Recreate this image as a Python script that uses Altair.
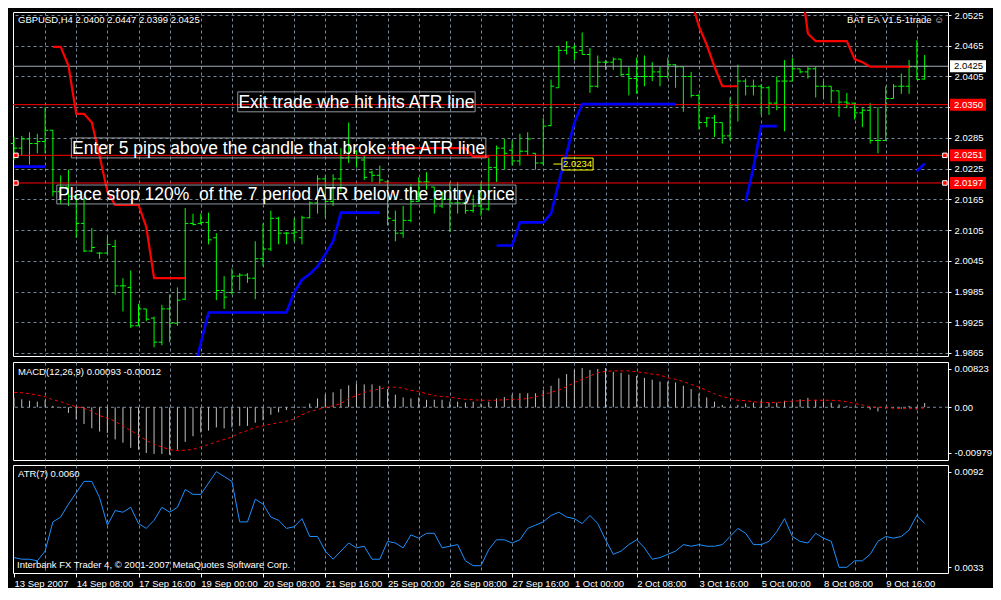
import altair as alt
import pandas as pd

FONT = "Liberation Sans"
GRID = "#778899"
W = 935
H_MAIN, H_MACD, H_ATR = 344, 98, 108

# ---------------- data ----------------
x_labels = ["13 Sep 2007", "14 Sep 08:00", "17 Sep 16:00", "19 Sep 00:00", "20 Sep 08:00",
            "21 Sep 16:00", "25 Sep 00:00", "26 Sep 08:00", "27 Sep 16:00", "1 Oct 00:00",
            "2 Oct 08:00", "3 Oct 16:00", "5 Oct 00:00", "8 Oct 08:00", "9 Oct 16:00"]
price_ticks = [2.0525, 2.0465, 2.0405, 2.0345, 2.0285, 2.0225, 2.0165, 2.0105,
               2.0045, 1.9985, 1.9925, 1.9865]
macd_ticks = [0.00823, 0.0, -0.00979]
atr_ticks = [0.0092, 0.0033]

bar_open = [
    2.0274, 2.0265, 2.0283, 2.0274, 2.0278, 2.0300, 2.0180, 2.0189, 2.0171, 2.0118,
    2.0064, 2.0060, 2.0060, 2.0073, 1.9996, 1.9993, 1.9918, 1.9951, 1.9933, 1.9886,
    1.9951, 1.9923, 1.9970, 2.0118, 2.0118, 2.0120, 2.0090, 1.9987, 1.9983, 2.0015,
    2.0017, 2.0011, 2.0049, 2.0068, 2.0128, 2.0099, 2.0099, 2.0090, 2.0129, 2.0158,
    2.0205, 2.0161, 2.0205, 2.0246, 2.0259, 2.0242, 2.0218, 2.0212, 2.0199, 2.0124,
    2.0099, 2.0124, 2.0161, 2.0199, 2.0189, 2.0152, 2.0165, 2.0158, 2.0158, 2.0143,
    2.0152, 2.0146, 2.0227, 2.0265, 2.0261, 2.0240, 2.0259, 2.0255, 2.0236, 2.0309,
    2.0383, 2.0456, 2.0461, 2.0456, 2.0448, 2.0386, 2.0433, 2.0433, 2.0439, 2.0409,
    2.0401, 2.0405, 2.0405, 2.0414, 2.0405, 2.0428, 2.0424, 2.0405, 2.0368, 2.0315,
    2.0324, 2.0315, 2.0289, 2.0349, 2.0396, 2.0386, 2.0386, 2.0383, 2.0353, 2.0396,
    2.0396, 2.0420, 2.0414, 2.0420, 2.0386, 2.0386, 2.0377, 2.0355, 2.0353, 2.0334,
    2.0339, 2.0280, 2.0280, 2.0362, 2.0386, 2.0386, 2.0424, 2.0400]
bar_high = [
    2.0287, 2.0289, 2.0296, 2.0293, 2.0345, 2.0300, 2.0212, 2.0223, 2.0176, 2.0171,
    2.0109, 2.0062, 2.0092, 2.0086, 2.0011, 2.0026, 1.9961, 1.9951, 1.9936, 1.9959,
    1.9979, 1.9993, 2.0148, 2.0137, 2.0137, 2.0139, 2.0099, 2.0015, 2.0030, 2.0021,
    2.0021, 2.0083, 2.0118, 2.0143, 2.0131, 2.0101, 2.0128, 2.0133, 2.0161, 2.0212,
    2.0212, 2.0214, 2.0265, 2.0315, 2.0261, 2.0250, 2.0221, 2.0231, 2.0203, 2.0143,
    2.0152, 2.0195, 2.0208, 2.0218, 2.0189, 2.0180, 2.0199, 2.0199, 2.0167, 2.0174,
    2.0199, 2.0246, 2.0270, 2.0283, 2.0280, 2.0293, 2.0296, 2.0255, 2.0324, 2.0399,
    2.0465, 2.0474, 2.0467, 2.0491, 2.0461, 2.0446, 2.0437, 2.0442, 2.0439, 2.0424,
    2.0442, 2.0446, 2.0433, 2.0424, 2.0442, 2.0429, 2.0424, 2.0414, 2.0371, 2.0326,
    2.0330, 2.0315, 2.0364, 2.0428, 2.0401, 2.0399, 2.0390, 2.0386, 2.0405, 2.0437,
    2.0441, 2.0420, 2.0424, 2.0424, 2.0396, 2.0386, 2.0377, 2.0373, 2.0353, 2.0343,
    2.0353, 2.0345, 2.0386, 2.0390, 2.0411, 2.0437, 2.0476, 2.0447]
bar_low = [
    2.0242, 2.0251, 2.0233, 2.0255, 2.0255, 2.0171, 2.0156, 2.0152, 2.0090, 2.0062,
    2.0062, 2.0049, 2.0058, 1.9979, 1.9946, 1.9914, 1.9918, 1.9927, 1.9876, 1.9880,
    1.9886, 1.9918, 1.9968, 2.0114, 2.0116, 2.0077, 1.9968, 1.9951, 1.9979, 1.9987,
    2.0002, 1.9970, 2.0034, 2.0064, 2.0077, 2.0077, 2.0083, 2.0077, 2.0128, 2.0137,
    2.0129, 2.0152, 2.0180, 2.0236, 2.0227, 2.0203, 2.0199, 2.0195, 2.0114, 2.0083,
    2.0090, 2.0120, 2.0161, 2.0184, 2.0137, 2.0148, 2.0101, 2.0137, 2.0137, 2.0139,
    2.0133, 2.0143, 2.0199, 2.0223, 2.0231, 2.0231, 2.0250, 2.0223, 2.0231, 2.0308,
    2.0383, 2.0448, 2.0437, 2.0448, 2.0373, 2.0383, 2.0418, 2.0418, 2.0405, 2.0368,
    2.0371, 2.0386, 2.0396, 2.0386, 2.0401, 2.0383, 2.0336, 2.0364, 2.0302, 2.0306,
    2.0287, 2.0274, 2.0280, 2.0317, 2.0368, 2.0368, 2.0330, 2.0330, 2.0339, 2.0298,
    2.0396, 2.0411, 2.0401, 2.0364, 2.0362, 2.0353, 2.0326, 2.0343, 2.0321, 2.0306,
    2.0274, 2.0255, 2.0280, 2.0362, 2.0371, 2.0371, 2.0399, 2.0399]
bar_close = [
    2.0265, 2.0283, 2.0274, 2.0278, 2.0300, 2.0180, 2.0189, 2.0171, 2.0118, 2.0064,
    2.0071, 2.0060, 2.0077, 1.9996, 1.9996, 1.9918, 1.9951, 1.9931, 1.9886, 1.9951,
    1.9923, 1.9968, 2.0118, 2.0116, 2.0120, 2.0086, 1.9987, 1.9974, 2.0015, 2.0017,
    2.0011, 2.0049, 2.0068, 2.0128, 2.0099, 2.0099, 2.0101, 2.0129, 2.0158, 2.0205,
    2.0161, 2.0205, 2.0246, 2.0265, 2.0246, 2.0208, 2.0212, 2.0203, 2.0128, 2.0099,
    2.0124, 2.0161, 2.0199, 2.0199, 2.0152, 2.0165, 2.0158, 2.0158, 2.0143, 2.0152,
    2.0146, 2.0227, 2.0265, 2.0255, 2.0240, 2.0259, 2.0283, 2.0236, 2.0308, 2.0386,
    2.0456, 2.0463, 2.0452, 2.0448, 2.0386, 2.0433, 2.0433, 2.0439, 2.0409, 2.0401,
    2.0405, 2.0405, 2.0414, 2.0405, 2.0428, 2.0424, 2.0405, 2.0368, 2.0315, 2.0324,
    2.0315, 2.0289, 2.0349, 2.0396, 2.0386, 2.0386, 2.0383, 2.0353, 2.0396, 2.0396,
    2.0420, 2.0414, 2.0420, 2.0386, 2.0386, 2.0377, 2.0355, 2.0353, 2.0334, 2.0339,
    2.0280, 2.0280, 2.0362, 2.0386, 2.0386, 2.0424, 2.0399, 2.0425]

# ATR trailing stops (upper = red, lower = blue), each segment with its first bar index
red_stop_start = [5, 48, 87, 101]
red_stop_1 = [2.0463, 2.0463, 2.0426, 2.0332, 2.0332, 2.0315, 2.0250, 2.0180, 2.0154,
              2.0154, 2.0154, 2.0154, 2.0111, 2.0011, 2.0011, 2.0011, 2.0011, 2.0011]
red_stop_2 = [2.0265] * 11 + [2.0248] * 3
red_stop_3 = [2.0555, 2.0503, 2.0467, 2.0424, 2.0386, 2.0386, 2.0386]
red_stop_4 = [2.0602, 2.0489, 2.0474, 2.0474, 2.0474, 2.0474, 2.0474, 2.0439, 2.0433,
              2.0424, 2.0424, 2.0424, 2.0424, 2.0424, 2.0424]
blue_stop_start = [0, 23, 62, 94, 116]
blue_stop_1 = [2.0229] * 5
blue_stop_2 = [1.9824, 1.9884] + [1.9944] * 11 + [1.9983, 2.0008, 2.0019, 2.0034, 2.0058,
                                                  2.0083] + [2.0139] * 6
blue_stop_3 = [2.0075, 2.0075, 2.0075, 2.0120, 2.0120, 2.0120, 2.0120, 2.0137, 2.0199,
               2.0255, 2.0315, 2.0351] + [2.0351] * 12
blue_stop_4 = [2.0161, 2.0227, 2.0308, 2.0308, 2.0308]
blue_stop_5 = [2.0220, 2.0235]

red_levels = [2.0350, 2.0251, 2.0197]
bid_level = [2.0425]
line_end_bars = [0.25, 119.6]
marked_levels = [2.0251, 2.0197]

note_text = ["Exit trade whe hit hits ATR line",
             "Enter 5 pips above the candle that broke the ATR line",
             "Place stop 120%\u00a0 of the 7 period ATR below the entry price"]
note_x0 = [28.75, 7.375, 5.5]
note_x1 = [59.25, 60.625, 64.5]
note_top = [2.0375, 2.0285, 2.0193]
note_bottom = [2.0336, 2.0246, 2.0156]

tag_price = [2.0234]
tag_stub_start = [69.3]
tag_box_start = [70.4]
tag_box_end = [74.4]

macd_hist = [
    0.0021, 0.0017, 0.0014, 0.0012, 0.0015, 0.0003, -0.0002, -0.0012, -0.0026, -0.0036,
    -0.0045, -0.0052, -0.0055, -0.0069, -0.0076, -0.0087, -0.0091, -0.0098, -0.0100, -0.0100,
    -0.0102, -0.0091, -0.0074, -0.0062, -0.0054, -0.0050, -0.0043, -0.0045, -0.0043, -0.0040,
    -0.0040, -0.0033, -0.0028, -0.0016, -0.0011, -0.0006, -0.0002, 0.0001, 0.0008, 0.0019,
    0.0027, 0.0032, 0.0039, 0.0047, 0.0051, 0.0049, 0.0049, 0.0046, 0.0039, 0.0027,
    0.0021, 0.0019, 0.0021, 0.0016, 0.0016, 0.0016, 0.0012, 0.0012, 0.0010, 0.0012,
    0.0008, 0.0012, 0.0019, 0.0022, 0.0027, 0.0030, 0.0030, 0.0030, 0.0037, 0.0046,
    0.0062, 0.0071, 0.0080, 0.0084, 0.0080, 0.0082, 0.0084, 0.0076, 0.0074, 0.0070,
    0.0067, 0.0063, 0.0059, 0.0055, 0.0055, 0.0053, 0.0046, 0.0039, 0.0029, 0.0021,
    0.0012, 0.0005, 0.0001, 0.0005, 0.0008, 0.0010, 0.0014, 0.0010, 0.0010, 0.0014,
    0.0012, 0.0017, 0.0020, 0.0016, 0.0012, 0.0010, 0.0006, 0.0003, 0.0001, 0.0000,
    -0.0005, -0.0009, -0.0003, -0.0002, -0.0003, 0.0003, -0.0005, 0.00093]
macd_signal = [
    0.0032, 0.0031, 0.0029, 0.0026, 0.0023, 0.0016, 0.0012, 0.0006, 0.0001, -0.0002,
    -0.0009, -0.0018, -0.0023, -0.0030, -0.0040, -0.0050, -0.0060, -0.0071, -0.0080, -0.0085,
    -0.0091, -0.0093, -0.0092, -0.0090, -0.0085, -0.0080, -0.0074, -0.0069, -0.0064, -0.0055,
    -0.0050, -0.0043, -0.0040, -0.0036, -0.0033, -0.0030, -0.0025, -0.0016, -0.0009, -0.0005,
    0.0000, 0.0003, 0.0008, 0.0019, 0.0025, 0.0032, 0.0036, 0.0039, 0.0043, 0.0043,
    0.0041, 0.0036, 0.0034, 0.0029, 0.0025, 0.0023, 0.0022, 0.0019, 0.0017, 0.0016,
    0.0015, 0.0015, 0.0015, 0.0016, 0.0017, 0.0017, 0.0019, 0.0022, 0.0027, 0.0032,
    0.0037, 0.0044, 0.0053, 0.0060, 0.0067, 0.0074, 0.0077, 0.0078, 0.0078, 0.0078,
    0.0076, 0.0074, 0.0071, 0.0069, 0.0063, 0.0060, 0.0055, 0.0049, 0.0043, 0.0036,
    0.0029, 0.0023, 0.0019, 0.0015, 0.0014, 0.0012, 0.0010, 0.0010, 0.0010, 0.0012,
    0.0013, 0.0014, 0.0015, 0.0015, 0.0015, 0.0015, 0.0014, 0.0012, 0.0008, 0.0005,
    0.0001, 0.0000, -0.0001, -0.0002, -0.0003, -0.0003, -0.0003, -0.00012]
atr7 = [
    0.0039, 0.0038, 0.0038, 0.0037, 0.0043, 0.0061, 0.0064, 0.0072, 0.0079, 0.0086,
    0.0086, 0.0076, 0.0059, 0.0068, 0.0067, 0.0070, 0.0060, 0.0057, 0.0062, 0.0070,
    0.0067, 0.0070, 0.0081, 0.0078, 0.0078, 0.0085, 0.0092, 0.0089, 0.0086, 0.0061,
    0.0061, 0.0075, 0.0072, 0.0064, 0.0062, 0.0057, 0.0058, 0.0063, 0.0052, 0.0052,
    0.0043, 0.0038, 0.0043, 0.0048, 0.0045, 0.0046, 0.0038, 0.0038, 0.0049, 0.0048,
    0.0045, 0.0053, 0.0051, 0.0054, 0.0054, 0.0045, 0.0046, 0.0047, 0.0037, 0.0034,
    0.0034, 0.0044, 0.0050, 0.0050, 0.0048, 0.0050, 0.0057, 0.0059, 0.0061, 0.0065,
    0.0067, 0.0064, 0.0063, 0.0060, 0.0065, 0.0060, 0.0050, 0.0041, 0.0043, 0.0047,
    0.0050, 0.0045, 0.0038, 0.0039, 0.0041, 0.0043, 0.0047, 0.0046, 0.0047, 0.0046,
    0.0046, 0.0047, 0.0052, 0.0057, 0.0054, 0.0047, 0.0047, 0.0049, 0.0055, 0.0063,
    0.0052, 0.0049, 0.0048, 0.0054, 0.0051, 0.0049, 0.0033, 0.0033, 0.0037, 0.0037,
    0.0041, 0.0049, 0.0052, 0.0051, 0.0052, 0.0056, 0.0065, 0.0060]

title_text = "GBPUSD,H4  2.0400 2.0447 2.0399 2.0425"
ea_text = "BAT EA V1.5-1trade \u263a"
macd_text = "MACD(12,26,9) 0.00093 -0.00012"
atr_text = "ATR(7) 0.0060"
footer_text = "Interbank FX Trader 4, \u00a9 2001-2007 MetaQuotes Software Corp."

# ---------------- tables ----------------
n = len(bar_close)
idx = list(range(n))
bars = pd.DataFrame({"i": idx, "o": bar_open, "h": bar_high, "l": bar_low, "c": bar_close})
ind = pd.DataFrame({"i": idx, "hist": macd_hist, "sig": macd_signal, "atr": atr7,
                    "zero": [0.0] * n})


def stop_frame(starts, segs):
    rows = []
    for k, (s, vals) in enumerate(zip(starts, segs)):
        for j, v in enumerate(vals):
            rows.append({"seg": k, "i": s + j, "v": v})
    return pd.DataFrame(rows)


red_df = stop_frame(red_stop_start, [red_stop_1, red_stop_2, red_stop_3, red_stop_4])
blue_df = stop_frame(blue_stop_start, [blue_stop_1, blue_stop_2, blue_stop_3, blue_stop_4,
                                       blue_stop_5])
notes = pd.DataFrame({"t": note_text, "x0": note_x0, "x1": note_x1,
                      "top": note_top, "bot": note_bottom})
tag = pd.DataFrame({"p": tag_price, "s0": tag_stub_start, "s1": tag_box_start,
                    "b1": tag_box_end})
markers = pd.DataFrame([{"x": x, "p": p} for p in marked_levels for x in line_end_bars])

# ---------------- scales / axes ----------------
XDOM = [-0.125, 120]
ax_grid = alt.Axis(values=list(range(4, 120, 4)), labels=False, ticks=False, domain=False,
                   grid=True, gridColor=GRID, gridDash=[3, 3], gridWidth=1, title=None)
label_arr = "[" + ",".join("'" + s + "'" for s in x_labels) + "]"
ax_dates = alt.Axis(values=list(range(0, 120, 4)),
                    labelExpr="datum.value % 8 == 0 ? " + label_arr + "[datum.value / 8] : ''",
                    labelAlign="left", labelBaseline="top", labelColor="white",
                    labelFont=FONT, labelFontSize=9.5, labelPadding=1, labelFlush=False,
                    labelOverlap=False, tickColor="white", tickSize=4,
                    tickOpacity={"condition": {"test": "datum.value % 8 == 0", "value": 1},
                                 "value": 0},
                    domain=False, grid=True, gridColor=GRID, gridDash=[3, 3],
                    gridOpacity={"condition": {"test": "datum.value == 0", "value": 0},
                                 "value": 1},
                    title=None)


def X(field, axis=ax_grid):
    return alt.X(field, type="quantitative",
                 scale=alt.Scale(domain=XDOM, nice=False, zero=False), axis=axis)


def right_axis(values, fmt=None, expr=None, grid=False):
    kw = dict(orient="right", values=values, labelColor="white", labelFont=FONT,
              labelFontSize=9.5, labelPadding=3, labelFlush=False, labelOverlap=False,
              tickColor="white", tickSize=3, domain=False, grid=grid, title=None)
    if grid:
        kw.update(gridColor=GRID, gridDash=[3, 3], gridWidth=1)
    if fmt:
        kw["format"] = fmt
    if expr:
        kw["labelExpr"] = expr
    return alt.Axis(**kw)


# the 2.0345 label sits under the 2.0350 level box, so it is left blank
ax_price = right_axis(price_ticks, fmt=".4f", grid=True,
                      expr="abs(datum.value - 2.0345) < 0.00005 ? '' : format(datum.value, '.4f')")
ax_macd = right_axis(macd_ticks, expr="datum.value > 0.001 ? '0.00823' : (datum.value < -0.001 ? '-0.00979' : '0.00')")
ax_atr = right_axis(atr_ticks, fmt=".4f")


def YP(field):
    return alt.Y(field, type="quantitative",
                 scale=alt.Scale(domain=[1.9859, 2.0531], nice=False, zero=False),
                 axis=ax_price)


def YM(field):
    return alt.Y(field, type="quantitative",
                 scale=alt.Scale(domain=[-0.0113, 0.0097], nice=False, zero=False),
                 axis=ax_macd)


def YA(field):
    return alt.Y(field, type="quantitative",
                 scale=alt.Scale(domain=[0.00295, 0.00961], nice=False, zero=False),
                 axis=ax_atr)


def label(text, x, y, align="left", size=9.5, color="white"):
    return alt.Chart(pd.DataFrame({"t": [text]})).mark_text(
        align=align, baseline="middle", color=color, font=FONT, fontSize=size
    ).encode(x=alt.value(x), y=alt.value(y), text="t:N")


LIME = "#00ff00"
HALF = 0.00117

# ---------------- main price panel ----------------
wick = alt.Chart(bars).mark_rule(color=LIME, strokeWidth=1).encode(
    x=X("i"), y=YP("l"), y2="h")
open_tick = alt.Chart(bars).transform_calculate(il="datum.i - 0.4").mark_rule(
    color=LIME, strokeWidth=1).encode(x=X("il"), x2="i", y=YP("o"))
close_tick = alt.Chart(bars).transform_calculate(ir="datum.i + 0.4").mark_rule(
    color=LIME, strokeWidth=1).encode(x=X("i"), x2="ir", y=YP("c"))

bid = alt.Chart(pd.DataFrame({"p": bid_level})).mark_rule(
    color="#a3abb5", strokeWidth=1).encode(y=YP("p"))
levels = alt.Chart(pd.DataFrame({"p": red_levels})).mark_rule(
    color="#ff0000", strokeWidth=1).encode(y=YP("p"))

red_line = alt.Chart(red_df).mark_line(color="#ff0000", strokeWidth=2.2, clip=True).encode(
    x=X("i"), y=YP("v"), detail="seg:N")
blue_line = alt.Chart(blue_df).mark_line(color="#0000ff", strokeWidth=2.6, clip=True).encode(
    x=X("i"), y=YP("v"), detail="seg:N")

note_box = alt.Chart(notes).mark_rect(fillOpacity=0, stroke="#8e959d", strokeWidth=1).encode(
    x=X("x0"), x2="x1", y=YP("top"), y2="bot")
note_txt = alt.Chart(notes).transform_calculate(
    xc="(datum.x0 + datum.x1) / 2", yc="(datum.top + datum.bot) / 2"
).mark_text(color="white", font=FONT, fontSize=17.5, baseline="middle", align="center",
            dy=1).encode(x=X("xc"), y=YP("yc"), text="t:N")

tag_stub = alt.Chart(tag).mark_rule(color="#ffff00", strokeWidth=1).encode(
    x=X("s0"), x2="s1", y=YP("p"))
tag_box = alt.Chart(tag).transform_calculate(
    t=f"datum.p + {HALF}", b=f"datum.p - {HALF}"
).mark_rect(fillOpacity=0, stroke="#ffff00", strokeWidth=1).encode(
    x=X("s1"), x2="b1", y=YP("t"), y2="b")
tag_txt = alt.Chart(tag).transform_calculate(xc="(datum.s1 + datum.b1) / 2").mark_text(
    color="#ffff00", font=FONT, fontSize=9.5, baseline="middle", align="center"
).encode(x=X("xc"), y=YP("p"), text=alt.Text("p:Q", format=".4f"))

mark_sq = alt.Chart(markers).mark_square(size=20, fill="#ff0000", stroke="white",
                                         strokeWidth=1, opacity=1).encode(
    x=X("x"), y=YP("p"))

hl_white_box = alt.Chart(pd.DataFrame({"p": bid_level})).transform_calculate(
    t=f"datum.p + {HALF}", b=f"datum.p - {HALF}"
).mark_rect(color="white").encode(x=alt.value(W + 2), x2=alt.value(W + 38),
                                  y=YP("t"), y2="b")
hl_white_txt = alt.Chart(pd.DataFrame({"p": bid_level})).mark_text(
    align="left", baseline="middle", color="black", font=FONT, fontSize=9.5
).encode(x=alt.value(W + 6), y=YP("p"), text=alt.Text("p:Q", format=".4f"))
hl_red_box = alt.Chart(pd.DataFrame({"p": red_levels})).transform_calculate(
    t=f"datum.p + {HALF}", b=f"datum.p - {HALF}"
).mark_rect(color="#ff0000").encode(x=alt.value(W + 2), x2=alt.value(W + 38),
                                    y=YP("t"), y2="b")
hl_red_txt = alt.Chart(pd.DataFrame({"p": red_levels})).mark_text(
    align="left", baseline="middle", color="white", font=FONT, fontSize=9.5
).encode(x=alt.value(W + 6), y=YP("p"), text=alt.Text("p:Q", format=".4f"))

main = alt.layer(
    wick, open_tick, close_tick, bid, levels, red_line, blue_line,
    note_box, note_txt, tag_stub, tag_box, tag_txt, mark_sq,
    hl_white_box, hl_white_txt, hl_red_box, hl_red_txt,
    label(title_text, 5, 8), label(ea_text, W - 4, 8, align="right"),
).properties(width=W, height=H_MAIN)

# ---------------- MACD panel ----------------
macd_zero = alt.Chart(pd.DataFrame({"v": [0.0]})).mark_rule(
    color=GRID, strokeDash=[3, 3], strokeWidth=1).encode(y=YM("v"))
macd_bars = alt.Chart(ind).mark_rule(color="#c0c0c0", strokeWidth=1).encode(
    x=X("i"), y=YM("hist"), y2="zero")
macd_sig = alt.Chart(ind).mark_line(color="#ff0000", strokeWidth=1,
                                    strokeDash=[3, 3]).encode(x=X("i"), y=YM("sig"))
macd = alt.layer(macd_zero, macd_bars, macd_sig, label(macd_text, 5, 10)).properties(
    width=W, height=H_MACD)

# ---------------- ATR panel ----------------
atr_line = alt.Chart(ind).mark_line(color="#1e90ff", strokeWidth=1).encode(
    x=X("i", ax_dates), y=YA("atr"))
atr = alt.layer(atr_line, label(atr_text, 5, 9), label(footer_text, 4, H_ATR - 8)).properties(
    width=W, height=H_ATR)

chart = alt.vconcat(main, macd, atr, spacing=3).properties(
    padding={"left": 1, "top": 1, "right": 0, "bottom": 0}
).configure(background="black", font=FONT).configure_view(stroke="white", strokeWidth=1)

chart.save("out.html", embed_options={"renderer": "svg", "actions": False})
